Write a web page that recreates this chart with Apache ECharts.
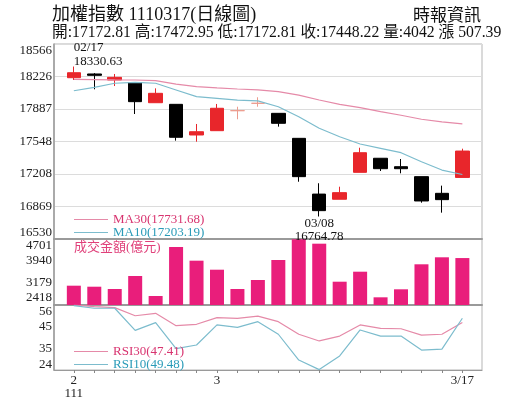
<!DOCTYPE html>
<html><head><meta charset="utf-8">
<script src="https://cdn.jsdelivr.net/npm/echarts@6/dist/echarts.min.js"></script>
<style>html,body{margin:0;padding:0;background:#fff}#c{width:515px;height:413px}</style>
</head><body><div id="c"></div>
<script>
// ---- data ----
const dates = ['02/17','02/18','02/21','02/22','02/23','02/24','02/25','03/01','03/02','03/03',
               '03/04','03/07','03/08','03/09','03/10','03/11','03/14','03/15','03/16','03/17'];
// [open, close, low, high]
const candles = [
  [18214, 18266, 18190, 18330.63],
  [18253, 18239, 18093, 18262],
  [18190, 18218, 18127, 18253],
  [18162, 17964, 17835, 18168],
  [17953, 18051, 17953, 18103],
  [17936, 17592, 17557, 17936],
  [17616, 17650, 17546, 17731],
  [17661, 17895, 17661, 17940],
  [17870, 17870, 17780, 17911],
  [17947, 17947, 17911, 18010],
  [17842, 17738, 17703, 17842],
  [17581, 17181, 17128, 17581],
  [16999, 16826, 16764.78, 17112],
  [16945, 17014, 16945, 17076],
  [17226, 17431, 17226, 17483],
  [17373, 17264, 17240, 17373],
  [17285, 17264, 17216, 17365],
  [17181, 16927, 16909, 17181],
  [17007, 16940.83, 16805, 17087],
  [17172.81, 17448.22, 17172.81, 17472.95]
];
const ma30 = [18197, 18195, 18192, 18190, 18183, 18148, 18120, 18107, 18096, 18086,
              18068, 18033, 17981, 17936, 17901, 17859, 17822, 17780, 17752, 17731.68];
const ma10 = [18078, 18114, 18156, 18166, 18156, 18086, 18016, 17999, 17981, 17972,
              17911, 17807, 17686, 17598, 17522, 17477, 17431, 17337, 17250, 17203.19];
const volume = [3086, 3051, 2971, 3421, 2729, 4424, 3951, 3639, 2971, 3283,
                3975, 4690, 4539, 3224, 3570, 2684, 2961, 3826, 4068, 4042];
const rsi30 = [56, 55.2, 54.7, 50.7, 51.9, 45.8, 46.5, 49.8, 49.4, 50.5,
               47.8, 41.6, 38.3, 40.7, 46.2, 44.5, 44.3, 41.2, 41.6, 47.41];
const rsi10 = [55.7, 54.4, 54.4, 43.5, 47.3, 34.5, 36.3, 46.2, 45.0, 47.8,
               41.6, 28.9, 24.2, 30.9, 43.7, 40.7, 40.7, 33.8, 34.3, 49.48];
const priceTickLabels = ['16530','16869','17208','17548','17887','18226','18566'];
const volTickLabels = ['2418','3179','3940','4701'];
const rsiTickLabels = ['24','35','45','56'];
const xLabelIdx = [0, 7, 19];
const xLabelText = ['2\n111', '3', '3/17'];
const highMark = {idx: 0, value: 18330.63};
const lowMark = {idx: 12, value: 16764.78};

// ---- chart ----
const FONT = "'Liberation Serif','Noto Sans CJK TC',serif";
const C_RED = '#e8262b', C_MA30 = '#e58aa8', C_MA10 = '#7cbccd';
const T_MA30 = '#d8336f', T_MA10 = '#2a9bb8';
const C_VOL = '#e91e7b';
const last = candles[candles.length - 1];
const prevClose = candles[candles.length - 2][1];
const lastVal = {MA30: ma30[ma30.length-1], MA10: ma10[ma10.length-1],
                 RSI30: rsi30[rsi30.length-1], RSI10: rsi10[rsi10.length-1]};

function ticks(labels) {
  const mn = +labels[0], mx = +labels[labels.length-1];
  const step = (mx - mn) / (labels.length - 1);
  return {mn, mx, step, values: labels.map((_, i) => mn + i * step)};
}
const pT = ticks(priceTickLabels), vT = ticks(volTickLabels), rT = ticks(rsiTickLabels);
function yLabel(t, labels, topPad, botPad) {
  const base = {fontSize: 13, fontFamily: FONT, color: '#222'};
  return {
    customValues: t.values, fontSize: 13, fontFamily: FONT, color: '#222', margin: 2,
    formatter: v => {
      const i = Math.round((v - t.mn) / t.step);
      const s = labels[i];
      if (i === labels.length - 1) return '{top|' + s + '}';
      if (i === 0) return '{bot|' + s + '}';
      return s;
    },
    rich: {
      top: Object.assign({padding: [topPad, 0, 0, 0]}, base),
      bot: Object.assign({padding: [0, 0, botPad, 0]}, base)
    }
  };
}
const XMIN = -0.97, XMAX = 19.96;
const idxs = dates.map((_, i) => i);
function xAxisCfg(gi, lw, showLabels) {
  return {
    type: 'value', gridIndex: gi, min: XMIN, max: XMAX,
    axisLine: {onZero: false, lineStyle: {color: '#9a9a9a', width: lw}},
    splitLine: {show: false},
    axisTick: showLabels ? {show: true, customValues: idxs, length: 3, lineStyle: {color: '#888'}} : {show: false},
    axisLabel: showLabels ? {
      customValues: xLabelIdx, fontSize: 13, fontFamily: FONT, color: '#222',
      lineHeight: 13, margin: 4,
      formatter: v => xLabelText[xLabelIdx.indexOf(Math.round(v))] || ''
    } : {show: false}
  };
}
function yAxisCfg(gi, t, labels, topPad, botPad, split) {
  return {
    type: 'value', gridIndex: gi, min: t.mn, max: t.mx,
    axisLine: {show: true, onZero: false, lineStyle: {color: '#9a9a9a', width: 1.5}},
    axisTick: {show: false, customValues: t.values},
    splitLine: {show: split, lineStyle: {color: '#dcdcdc', width: 1}},
    axisLabel: yLabel(t, labels, topPad, botPad)
  };
}
const fix2 = v => v.toFixed(2);
const option = {
  animation: false,
  backgroundColor: '#fff',
  title: [
    {text: '加權指數 1110317(日線圖)', left: 52, top: 6, padding: 0,
     textStyle: {fontSize: 18, fontWeight: 'normal', fontFamily: FONT, color: '#111'}},
    {text: '開:' + fix2(last[0]) + ' 高:' + fix2(last[3]) + ' 低:' + fix2(last[2]) + ' 收:' + fix2(last[1]) +
           ' 量:' + volume[volume.length-1] + ' 漲 ' + fix2(last[1] - prevClose),
     left: 52, top: 25, padding: 0,
     textStyle: {fontSize: 15.7, fontWeight: 'normal', fontFamily: FONT, color: '#111'}},
    {text: '時報資訊', left: 413, top: 8, padding: 0,
     textStyle: {fontSize: 17, fontWeight: 'normal', fontFamily: FONT, color: '#111'}},
    {text: '成交金額(億元)', left: 74, top: 241, padding: 0,
     textStyle: {fontSize: 13, fontWeight: 'normal', fontFamily: FONT, color: '#e0407a'}}
  ],
  legend: [
    {left: 74, top: 213, orient: 'vertical', padding: 0, itemGap: 0, itemWidth: 34, itemHeight: 1,
     icon: 'rect', selectedMode: false,
     formatter: n => n + '(' + fix2(lastVal[n]) + ')',
     textStyle: {fontSize: 13, fontFamily: FONT, lineHeight: 13},
     data: [{name: 'MA30', textStyle: {color: T_MA30}}, {name: 'MA10', textStyle: {color: T_MA10}}]},
    {left: 74, top: 345, orient: 'vertical', padding: 0, itemGap: 0, itemWidth: 34, itemHeight: 1,
     icon: 'rect', selectedMode: false,
     formatter: n => n + '(' + fix2(lastVal[n]) + ')',
     textStyle: {fontSize: 13, fontFamily: FONT, lineHeight: 13},
     data: [{name: 'RSI30', textStyle: {color: T_MA30}}, {name: 'RSI10', textStyle: {color: T_MA10}}]}
  ],
  grid: [
    {left: 54, right: 33, top: 44, height: 195, show: true, borderColor: '#b5b5b5', borderWidth: 1},
    {left: 54, right: 33, top: 239, height: 66, show: true, borderColor: '#b5b5b5', borderWidth: 1},
    {left: 54, right: 33, top: 305, height: 65, show: true, borderColor: '#b5b5b5', borderWidth: 1}
  ],
  xAxis: [xAxisCfg(0, 2, false), xAxisCfg(1, 2, false), xAxisCfg(2, 1.2, true)],
  yAxis: [
    yAxisCfg(0, pT, priceTickLabels, 14, 12, true),
    yAxisCfg(1, vT, volTickLabels, 14, 14, false),
    yAxisCfg(2, rT, rsiTickLabels, 14, 10, false)
  ],
  series: [
    {type: 'candlestick', name: 'K', xAxisIndex: 0, yAxisIndex: 0, barWidth: 14,
     data: candles.map((c, i) => [i, c[0], c[1], c[2], c[3]]),
     encode: {x: 0, y: [1, 2, 3, 4]},
     itemStyle: {color: C_RED, color0: '#000', borderColor: C_RED, borderColor0: '#000',
                 borderColorDoji: '#ec9c8e', borderWidth: 1},
     markPoint: {
       symbol: 'circle', symbolSize: 1, itemStyle: {color: 'rgba(0,0,0,0)'},
       data: [
         {coord: [highMark.idx, highMark.value],
          label: {show: true, position: 'top', distance: 1, align: 'left', offset: [0, 4],
                  formatter: dates[highMark.idx] + '\n' + fix2(highMark.value),
                  fontSize: 13, lineHeight: 14, fontFamily: FONT, color: '#111'}},
         {coord: [lowMark.idx, lowMark.value],
          label: {show: true, position: 'bottom', distance: 0, align: 'center',
                  formatter: dates[lowMark.idx] + '\n' + fix2(lowMark.value),
                  fontSize: 13, lineHeight: 13, fontFamily: FONT, color: '#111'}}
       ]
     }},
    {type: 'line', name: 'MA30', xAxisIndex: 0, yAxisIndex: 0, color: C_MA30, showSymbol: false,
     lineStyle: {width: 1.2}, data: ma30.map((v, i) => [i, v])},
    {type: 'line', name: 'MA10', xAxisIndex: 0, yAxisIndex: 0, color: C_MA10, showSymbol: false,
     lineStyle: {width: 1.2}, data: ma10.map((v, i) => [i, v])},
    {type: 'bar', name: '成交金額', xAxisIndex: 1, yAxisIndex: 1, barWidth: 14,
     itemStyle: {color: C_VOL}, data: volume.map((v, i) => [i, v])},
    {type: 'line', name: 'RSI30', xAxisIndex: 2, yAxisIndex: 2, color: C_MA30, showSymbol: false,
     lineStyle: {width: 1.2}, data: rsi30.map((v, i) => [i, v])},
    {type: 'line', name: 'RSI10', xAxisIndex: 2, yAxisIndex: 2, color: C_MA10, showSymbol: false,
     lineStyle: {width: 1.2}, data: rsi10.map((v, i) => [i, v])}
  ]
};
const chart = echarts.init(document.getElementById('c'), null, {renderer: 'canvas'});
chart.setOption(option);
</script>
</body></html>
